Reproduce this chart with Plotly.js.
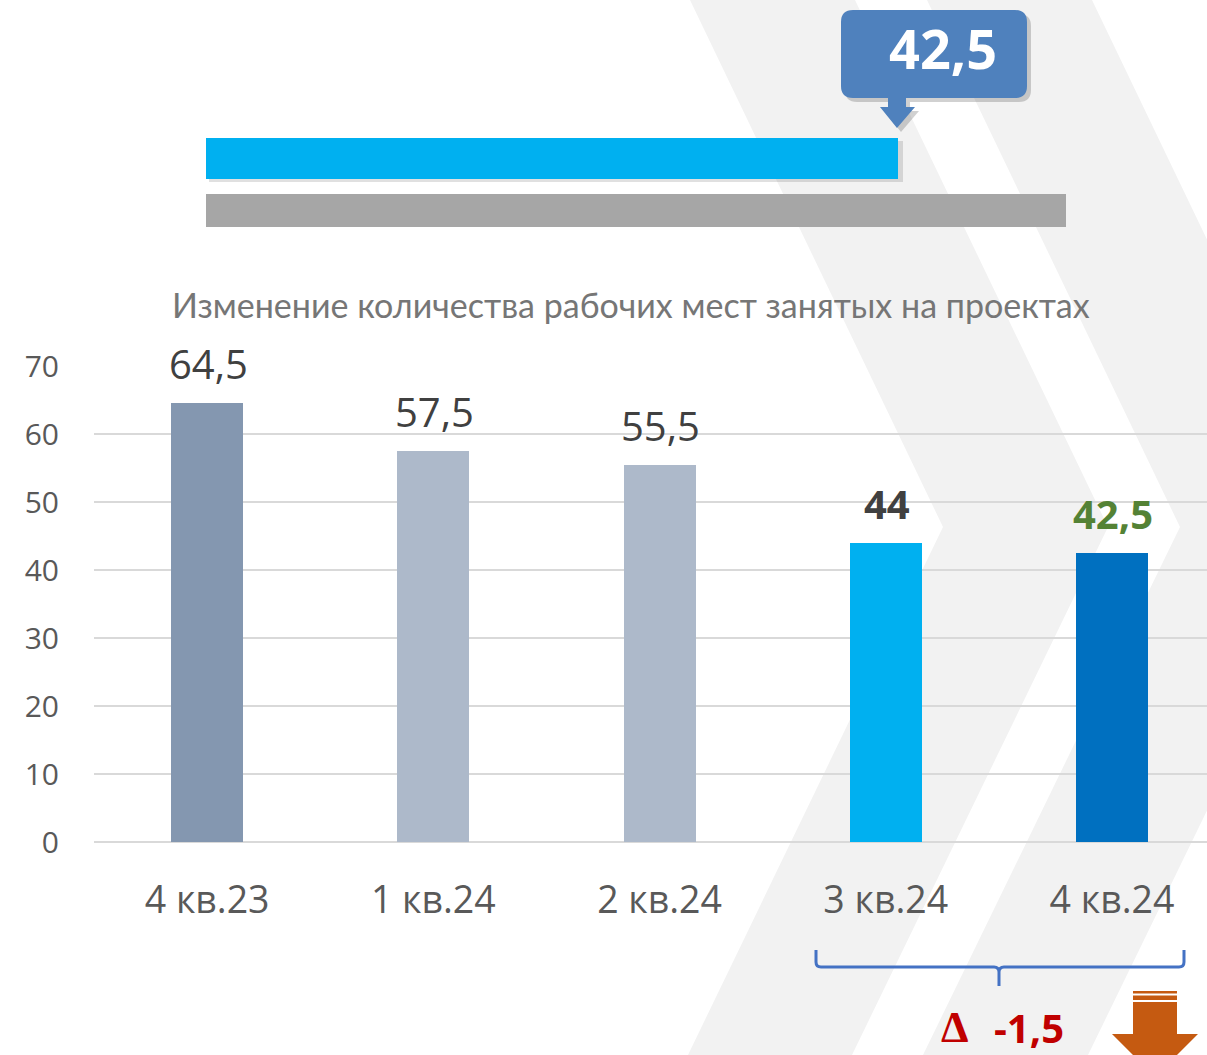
<!DOCTYPE html>
<html>
<head>
<meta charset="utf-8">
<script src="https://cdn.plot.ly/plotly-3.0.1.min.js"></script>
<style>html,body{margin:0;padding:0;background:#fff}#chart{width:1207px;height:1055px}</style>
</head>
<body>
<div id="chart"></div>
<script>
// ---- data ----
const categories = ['4 кв.23', '1 кв.24', '2 кв.24', '3 кв.24', '4 кв.24'];
const values = [64.5, 57.5, 55.5, 44, 42.5];
const yTickValues = [0, 10, 20, 30, 40, 50, 60, 70];
const topValues = [42.5, 52.8];
const titleText = 'Изменение количества рабочих мест занятых на проектах';

// ---- styles ----
const barColors = ['#8497B0', '#ADB9CA', '#ADB9CA', '#00B0F0', '#0070C0'];
const labelColors = ['#404040', '#404040', '#404040', '#404040', '#548235'];
const labelWeights = ['normal', 'normal', 'normal', 'bold', 'bold'];
const topColors = ['#00B0F0', '#A6A6A6'];

const W = 1207, H = 1055;
const fmt = v => String(v).replace('.', ',');
const px = x => x / W;
const py = y => 1 - y / H;
function path(d) {
  // convert pixel path string into paper coords
  return d.replace(/([MLHVQZ])([^MLHVQZ]*)/g, (m, c, args) => {
    const nums = args.trim().split(/[\s,]+/).filter(s => s.length).map(Number);
    if (c === 'H') return 'H' + px(nums[0]).toFixed(5) + ' ';
    if (c === 'V') return 'V' + py(nums[0]).toFixed(5) + ' ';
    if (c === 'Z') return 'Z';
    const out = [];
    for (let i = 0; i < nums.length; i += 2) out.push(px(nums[i]).toFixed(5) + ',' + py(nums[i + 1]).toFixed(5));
    return c + out.join(' ') + ' ';
  });
}

const FONT = 'Open Sans, sans-serif';

const mainBars = {
  type: 'bar', x: categories, y: values, xaxis: 'x', yaxis: 'y',
  marker: { color: barColors, line: { width: 0 } }, width: 0.318,
  hoverinfo: 'none', cliponaxis: false
};
const topBars = {
  type: 'bar', orientation: 'h', x: topValues, y: [0.7286, 0.2333],
  width: [0.39, 0.314], xaxis: 'x2', yaxis: 'y2',
  marker: { color: topColors, line: { width: 0 } }, hoverinfo: 'none'
};

const annotations = values.map((v, i) => ({
  x: categories[i], y: v, xref: 'x', yref: 'y', text: fmt(v), showarrow: false,
  yanchor: 'bottom', yshift: 10, xshift: 1,
  font: { family: FONT, size: 40, color: labelColors[i], weight: labelWeights[i] }
}));
annotations.push({
  x: px(631), y: py(304), xref: 'paper', yref: 'paper', text: titleText, showarrow: false,
  xanchor: 'center', yanchor: 'middle', font: { family: 'Lato, sans-serif', size: 34, color: '#767676' }
});
annotations.push({
  x: px(943), y: py(48), xref: 'paper', yref: 'paper', text: fmt(values[values.length - 1]), showarrow: false,
  xanchor: 'center', yanchor: 'middle', font: { family: FONT, size: 54, color: '#ffffff', weight: 'bold' }
});
const delta = Math.round((values[4] - values[3]) * 10) / 10;
annotations.push({
  x: px(955), y: py(1027), xref: 'paper', yref: 'paper', text: 'Δ', showarrow: false,
  xanchor: 'center', yanchor: 'middle', font: { family: 'Liberation Serif, serif', size: 44, color: '#C00000', weight: 'bold' }
});
annotations.push({
  x: px(1029), y: py(1027), xref: 'paper', yref: 'paper', text: fmt(delta), showarrow: false,
  xanchor: 'center', yanchor: 'middle', font: { family: FONT, size: 40, color: '#C00000', weight: 'bold' }
});

const shapes = [
  { type: 'path', xref: 'paper', yref: 'paper', layer: 'below', fillcolor: '#F2F2F2', line: { width: 0 },
    path: path('M690,0 L855,0 L1108,527 L852,1055 L688,1055 L943,527 Z') },
  { type: 'path', xref: 'paper', yref: 'paper', layer: 'below', fillcolor: '#F2F2F2', line: { width: 0 },
    path: path('M927,0 L1092,0 L1345,527 L1088,1055 L923,1055 L1180,527 Z') },
  // shadow under blue bar
  { type: 'path', xref: 'paper', yref: 'paper', layer: 'below', fillcolor: 'rgba(0,0,0,0.12)', line: { width: 0 },
    path: path('M209,141 L903,141 L903,182 L209,182 Z') },
  // callout shadow
  { type: 'path', xref: 'paper', yref: 'paper', layer: 'above', fillcolor: 'rgba(0,0,0,0.18)', line: { width: 0 },
    path: path('M857,14 H1019 Q1031,14 1031,26 V90 Q1031,102 1019,102 H910 V111 H919 L901,132 L884,111 H892 V102 H857 Q845,102 845,90 V26 Q845,14 857,14 Z') },
  // callout
  { type: 'path', xref: 'paper', yref: 'paper', layer: 'above', fillcolor: '#4F81BD', line: { width: 0 },
    path: path('M853,10 H1015 Q1027,10 1027,22 V86 Q1027,98 1015,98 H906 V107 H915 L897,128 L880,107 H888 V98 H853 Q841,98 841,86 V22 Q841,10 853,10 Z') },
  // bracket
  { type: 'path', xref: 'paper', yref: 'paper', layer: 'above', line: { color: '#4472C4', width: 3 },
    path: path('M816,950 L816,962 Q816,967 821,967 L994,967 Q999,967 999,972 L999,986 M999,972 Q999,967 1004,967 L1179,967 Q1184,967 1184,962 L1184,950') },
  // orange arrow
  { type: 'path', xref: 'paper', yref: 'paper', layer: 'above', fillcolor: '#C55A11', line: { width: 0 },
    path: path('M1133,991 H1177 V993.5 H1133 Z') },
  { type: 'path', xref: 'paper', yref: 'paper', layer: 'above', fillcolor: '#C55A11', line: { width: 0 },
    path: path('M1133,995.5 H1177 V1000 H1133 Z') },
  { type: 'path', xref: 'paper', yref: 'paper', layer: 'above', fillcolor: '#C55A11', line: { width: 0 },
    path: path('M1133,1002 H1177 V1034 H1198 L1155,1077 L1112,1034 H1133 Z') }
];

const layout = {
  width: W, height: H, margin: { l: 0, r: 0, t: 0, b: 0, pad: 0 },
  paper_bgcolor: '#ffffff', plot_bgcolor: 'rgba(0,0,0,0)', showlegend: false,
  bargap: 0,
  xaxis: {
    domain: [px(94), 1], anchor: 'y', type: 'category', categoryorder: 'array', categoryarray: categories,
    range: [-0.5, 4.42], showgrid: false, showline: false, zeroline: false, ticks: '',
    tickfont: { family: FONT, size: 37.5, color: '#595959' }, ticklabelstandoff: 32, fixedrange: true
  },
  yaxis: {
    domain: [py(842), py(366)], anchor: 'x', range: [0, 70], tickvals: yTickValues,
    ticktext: yTickValues.map(String), showgrid: true, gridcolor: '#D9D9D9', gridwidth: 2,
    zeroline: true, zerolinecolor: '#D9D9D9', zerolinewidth: 2, showline: false, ticks: '',
    tickfont: { family: FONT, size: 30, color: '#595959' }, ticklabelstandoff: 34, fixedrange: true
  },
  xaxis2: { domain: [px(206), 1], anchor: 'y2', range: [0, 1001 / (692 / 42.5)], visible: false, fixedrange: true },
  yaxis2: { domain: [py(235), py(130)], anchor: 'x2', range: [0, 1], visible: false, fixedrange: true },
  annotations: annotations,
  shapes: shapes
};

Plotly.newPlot('chart', [mainBars, topBars], layout, { displayModeBar: false, staticPlot: true });
</script>
</body>
</html>
